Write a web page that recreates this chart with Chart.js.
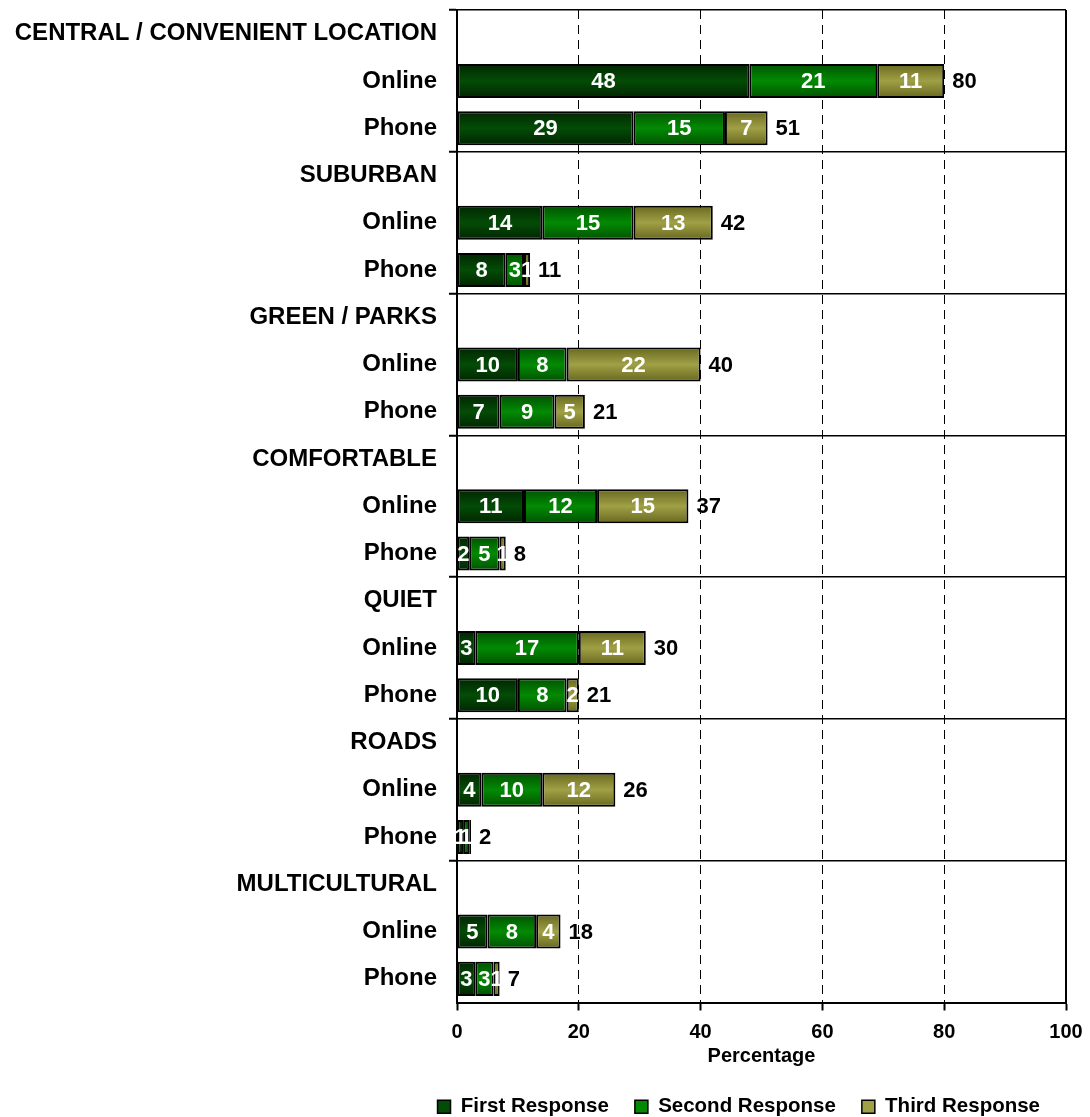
<!DOCTYPE html>
<html>
<head>
<meta charset="utf-8">
<title>Reasons for choosing neighbourhood</title>
<script src="https://cdn.jsdelivr.net/npm/chart.js@4.4.1/dist/chart.umd.min.js"></script>
<style>
  html, body { margin: 0; padding: 0; background: #fff; }
  #wrap { width: 1090px; height: 1117px; position: relative; }
</style>
</head>
<body>
<div id="wrap"><canvas id="barChart"></canvas></div>
<script>
// Row labels: each group has a heading row followed by Online / Phone rows
const categories = [
  'CENTRAL / CONVENIENT LOCATION', 'Online', 'Phone',
  'SUBURBAN', 'Online', 'Phone',
  'GREEN / PARKS', 'Online', 'Phone',
  'COMFORTABLE', 'Online', 'Phone',
  'QUIET', 'Online', 'Phone',
  'ROADS', 'Online', 'Phone',
  'MULTICULTURAL', 'Online', 'Phone'
];

// Percent of respondents per response (heading rows are empty)
const firstResponse  = [null, 48, 29, null, 14, 8, null, 10, 7, null, 11, 2, null, 3, 10, null, 4, 1, null, 5, 3];
const secondResponse = [null, 21, 15, null, 15, 3, null, 8, 9, null, 12, 5, null, 17, 8, null, 10, 1, null, 8, 3];
const thirdResponse  = [null, 11, 7, null, 13, 1, null, 22, 5, null, 15, 1, null, 11, 2, null, 12, 0.3, null, 4, 1];
const totals         = [null, 80, 51, null, 42, 11, null, 40, 21, null, 37, 8, null, 30, 21, null, 26, 2, null, 18, 7];

const xTicks = [0, 20, 40, 60, 80, 100];

const FONT = '"Liberation Sans", Arial, Helvetica, sans-serif';
const BAR_PCT = 0.72;

// edge / middle colours for the shaded bars
const palette = [
  { edge: '#012501', mid: '#034c06' },
  { edge: '#005200', mid: '#038a03' },
  { edge: '#68681f', mid: '#a0a046' }
];

/**
 * Vertical shading for each bar, built from the bar's row position
 */
function shaded(p) {
  return ctx => {
    const chart = ctx.chart;
    const yScale = chart.scales && chart.scales.y;
    if (!chart.chartArea || !yScale || ctx.dataIndex === undefined) return p.mid;
    const cy = yScale.getPixelForValue(ctx.dataIndex);
    const half = (yScale.height / categories.length) * BAR_PCT / 2;
    const g = chart.ctx.createLinearGradient(0, cy - half, 0, cy + half);
    g.addColorStop(0, p.edge);
    g.addColorStop(0.5, p.mid);
    g.addColorStop(1, p.edge);
    return g;
  };
}

// Segment values in white, row totals in black after the bar
const valueLabels = {
  id: 'valueLabels',
  afterDatasetsDraw(chart) {
    const ctx = chart.ctx;
    ctx.save();
    ctx.font = 'bold 22px ' + FONT;
    ctx.textBaseline = 'middle';
    chart.data.datasets.forEach((ds, i) => {
      const meta = chart.getDatasetMeta(i);
      meta.data.forEach((bar, j) => {
        const v = ds.data[j];
        if (v == null || v < 0.5) return;
        const p = bar.getProps(['x', 'y', 'base'], true);
        ctx.fillStyle = '#fff';
        ctx.textAlign = 'center';
        ctx.fillText(String(Math.round(v)), (p.x + p.base) / 2, p.y + 1);
      });
    });
    const last = chart.getDatasetMeta(chart.data.datasets.length - 1);
    last.data.forEach((bar, j) => {
      if (totals[j] == null) return;
      const p = bar.getProps(['x', 'y'], true);
      ctx.fillStyle = '#000';
      ctx.textAlign = 'left';
      ctx.fillText(String(totals[j]), p.x + 8, p.y + 1);
    });
    ctx.restore();
  }
};

// Solid right-hand edge of the plot frame
const plotFrame = {
  id: 'plotFrame',
  afterDraw(chart) {
    const { ctx, chartArea: a } = chart;
    ctx.save();
    ctx.strokeStyle = '#000';
    ctx.lineWidth = 2;
    ctx.beginPath();
    ctx.moveTo(a.right, a.top);
    ctx.lineTo(a.right, a.bottom);
    ctx.stroke();
    ctx.restore();
  }
};

Chart.defaults.font.family = FONT;
Chart.defaults.color = '#000';

const datasets = [
  { label: 'First Response', data: firstResponse, p: palette[0] },
  { label: 'Second Response', data: secondResponse, p: palette[1] },
  { label: 'Third Response', data: thirdResponse, p: palette[2] }
].map(d => ({
  label: d.label,
  data: d.data,
  backgroundColor: shaded(d.p),
  borderColor: '#000',
  borderWidth: 2,
  borderSkipped: false,
  barPercentage: BAR_PCT,
  categoryPercentage: 1,
  legendColor: d.p.mid
}));

const barChart = new Chart(document.getElementById('barChart').getContext('2d'), {
  type: 'bar',
  data: { labels: categories, datasets },
  plugins: [valueLabels, plotFrame],
  options: {
    indexAxis: 'y',
    responsive: true,
    maintainAspectRatio: false,
    animation: false,
    layout: { padding: { top: 10, right: 24, left: 0, bottom: -10 } },
    plugins: {
      tooltip: { enabled: false },
      legend: {
        position: 'bottom',
        align: 'end',
        labels: {
          font: { size: 20.5, weight: 'bold' },
          color: '#000',
          boxWidth: 13,
          boxHeight: 13,
          padding: 26,
          generateLabels(chart) {
            return chart.data.datasets.map((ds, i) => ({
              text: ds.label,
              fillStyle: ds.legendColor,
              strokeStyle: '#000',
              lineWidth: 1.5,
              fontColor: '#000',
              datasetIndex: i
            }));
          }
        }
      }
    },
    scales: {
      x: {
        stacked: true,
        min: 0,
        max: 100,
        afterBuildTicks(scale) {
          scale.ticks = xTicks.map(v => ({ value: v }));
        },
        afterFit(scale) {
          scale.height = 68;
          scale.paddingLeft = 0;
          scale.paddingRight = 0;
        },
        ticks: { font: { size: 20, weight: 'bold' }, color: '#000', padding: 10 },
        grid: {
          color: c => (c.tick && c.tick.value > 0 && c.tick.value < 100) ? '#000' : 'transparent',
          lineWidth: 1,
          tickColor: '#000',
          tickWidth: 2,
          tickLength: 8
        },
        border: { color: '#000', width: 2, dash: [9, 6] },
        title: {
          display: true,
          text: 'Percentage',
          font: { size: 20, weight: 'bold' },
          color: '#000',
          padding: { top: 0, bottom: 2 }
        }
      },
      y: {
        stacked: true,
        afterFit(scale) {
          scale.width = 457;
          // row labels sit inside their rows, no overhang above or below
          scale.paddingTop = 0;
          scale.paddingBottom = 0;
        },
        ticks: { font: { size: 24, weight: 'bold' }, color: '#000', padding: 12, autoSkip: false },
        grid: {
          color: c => (c.index !== undefined && c.index % 3 === 0) ? '#000' : 'transparent',
          lineWidth: 1.5,
          tickLength: 8,
          tickWidth: 2
        },
        border: { color: '#000', width: 2 }
      }
    }
  }
});
</script>
</body>
</html>
